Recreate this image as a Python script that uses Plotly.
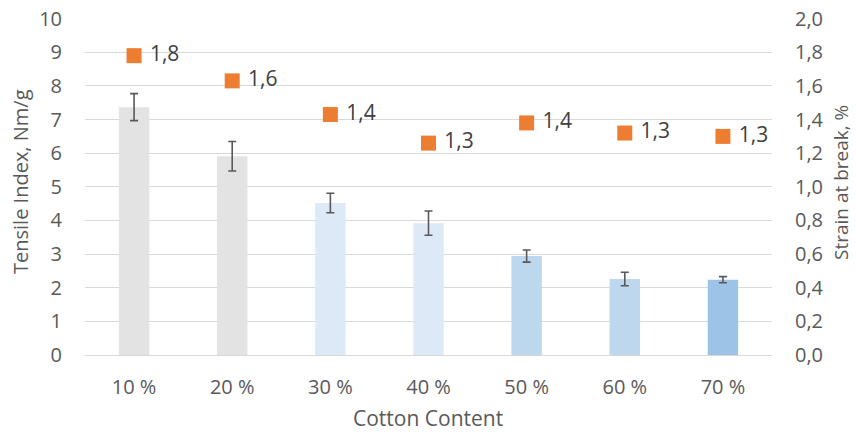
import plotly.graph_objects as go

categories = ["10 %", "20 %", "30 %", "40 %", "50 %", "60 %", "70 %"]
tensile_index = [7.37, 5.91, 4.52, 3.92, 2.94, 2.26, 2.24]
tensile_err = [0.40, 0.44, 0.29, 0.36, 0.18, 0.20, 0.09]
strain = [1.78, 1.63, 1.43, 1.26, 1.38, 1.32, 1.30]
bar_colors = ["#e3e3e3", "#e3e3e3", "#dde9f6", "#dde9f6", "#bdd7ee", "#bdd7ee", "#9dc3e6"]

FONT = "Open Sans"
TXT = "#595959"
L, R, T, B = 85, 772, 18, 355
W, H = 856, 432


def px_x(p):
    return (p - L) / (R - L)


def px_y(p):
    return (B - p) / (B - T)


fig = go.Figure()
fig.add_trace(go.Bar(
    x=categories, y=tensile_index, width=0.31,
    marker=dict(color=bar_colors, line=dict(width=0)),
    error_y=dict(type="data", array=tensile_err, visible=True,
                 color="#595959", thickness=1.6, width=4),
    showlegend=False, yaxis="y",
))
fig.add_trace(go.Scatter(
    x=categories, y=strain, yaxis="y2", mode="markers+text",
    marker=dict(symbol="square", size=15, color="#ed7d31"),
    texttemplate=" %{y:.1f}", textposition="middle right",
    textfont=dict(family=FONT, size=21, color="#404040"),
    showlegend=False, cliponaxis=False,
))

fig.update_layout(
    width=W, height=H,
    margin=dict(l=L, r=W - R, t=T, b=H - B, autoexpand=False),
    paper_bgcolor="white", plot_bgcolor="white",
    separators=", ",
    font=dict(family=FONT, size=20, color=TXT),
    bargap=0.69,
    xaxis=dict(
        type="category", showgrid=False, showline=True, linecolor="#d9d9d9", linewidth=1,
        ticks="", ticklabelstandoff=14, automargin=False,
    ),
    yaxis=dict(
        range=[0, 10.02], dtick=1, showgrid=True, gridcolor="#d9d9d9", gridwidth=1,
        zeroline=False, showline=False, ticks="", ticklabelstandoff=22, automargin=False,
        ticklabeloverflow="allow",
    ),
    yaxis2=dict(
        range=[0, 2.004], dtick=0.2, tickformat=".1f", overlaying="y", side="right",
        showgrid=False, zeroline=False, showline=False, ticks="", ticklabelstandoff=22,
        automargin=False, ticklabeloverflow="allow",
    ),
    annotations=[
        dict(text="Cotton Content", xref="paper", yref="paper", x=px_x(428), y=px_y(418),
             showarrow=False, xanchor="center", yanchor="middle", font=dict(size=21, color=TXT)),
        dict(text="Tensile Index, Nm/g", xref="paper", yref="paper", x=px_x(20), y=px_y(182),
             showarrow=False, xanchor="center", yanchor="middle", textangle=-90,
             font=dict(size=20, color=TXT)),
        dict(text="Strain at break, %", xref="paper", yref="paper", x=px_x(841), y=px_y(182),
             showarrow=False, xanchor="center", yanchor="middle", textangle=-90,
             font=dict(size=19, color=TXT)),
    ],
)

fig.write_html(
    "out.html",
    config={"displayModeBar": False},
    post_script="document.body.style.margin='0';document.body.style.overflow='hidden';",
)
